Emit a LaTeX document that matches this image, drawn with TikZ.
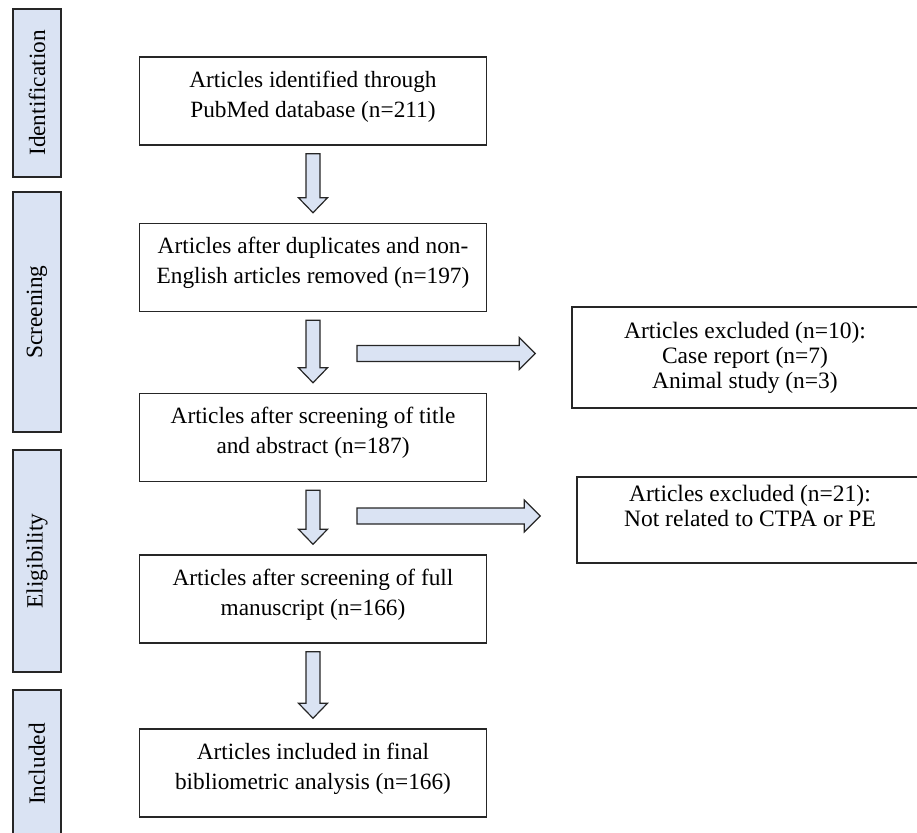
\documentclass[tikz,border=0pt]{standalone}
\usepackage{fontspec}
\setmainfont{Liberation Serif}
\usetikzlibrary{positioning, calc}

\definecolor{barfill}{HTML}{DAE3F3}
\definecolor{lineclr}{HTML}{262626}

\newcommand{\blockdown}[2]{%
  \draw[blockarrow] ($(#1.south)+(-7,8)$) -- ($(#2.north)+(-7,-25)$)
    -- ($(#2.north)+(-14.5,-25)$) -- ($(#2.north)+(0,-10)$)
    -- ($(#2.north)+(14.5,-25)$) -- ($(#2.north)+(7,-25)$)
    -- ($(#1.south)+(7,8)$) -- cycle;}
\newcommand{\blockright}[2]{%
  \draw[blockarrow] ($(#1.center |- #2.west)+(44,-12)$) -- ($(#2.west)+(-52,-12)$)
    -- ($(#2.west)+(-52,-20)$) -- ($(#2.west)+(-36,-4)$)
    -- ($(#2.west)+(-52,12)$) -- ($(#2.west)+(-52,4)$)
    -- ($(#1.center |- #2.west)+(44,4)$) -- cycle;}

\begin{document}
\begin{tikzpicture}[x=1pt,y=-1pt,font=\fontsize{23.3}{30}\selectfont,
        stage/.style={draw=lineclr, line width=1.5pt, fill=barfill, rotate=90, minimum height=48pt, inner sep=0pt},
        box/.style={draw=lineclr, line width=1.5pt, align=center, minimum width=347pt, minimum height=88pt, text depth=14pt},
        exbox/.style={draw=lineclr, line width=1.5pt, align=center, minimum width=346pt, font=\fontsize{23.5}{25}\selectfont},
        blockarrow/.style={draw=lineclr, line width=1.2pt, fill=barfill}]
        \useasboundingbox (0,0) rectangle (917,832);
        \node[stage, minimum width=168pt] (ident) at (37,93) {Identification};
        \node[stage, minimum width=240pt] (screen) at (37,312) {Screening};
        \node[stage, minimum width=222pt] (elig) at (37,561) {Eligibility};
        \node[stage, minimum width=148pt] (incl) at (37,764) {Included};

        \node[box] (pubmed) at (313,101) {Articles identified through\\PubMed database (n=211)};
        \node[box] (dedup) at (313,267.5) {Articles after duplicates and non-\\English articles removed (n=197)};
        \node[box] (title) at (313,437.5) {Articles after screening of title\\and abstract (n=187)};
        \node[box] (full) at (313,599) {Articles after screening of full\\manuscript (n=166)};
        \node[box] (final) at (313,773) {Articles included in final\\bibliometric analysis (n=166)};
        \node[exbox, minimum height=101pt] (excl1) at (745,357.5) {Articles excluded (n=10):\\Case report (n=7)\\Animal study (n=3)};
        \node[exbox, minimum height=86pt, text depth=29pt] (excl2) at (750,520) {Articles excluded (n=21):\\Not related to CTPA or PE};

        \blockdown{pubmed}{dedup}
        \blockdown{dedup}{title}
        \blockdown{title}{full}
        \blockdown{full}{final}
        \blockright{dedup}{excl1}
        \blockright{title}{excl2}
\end{tikzpicture}
\end{document}
